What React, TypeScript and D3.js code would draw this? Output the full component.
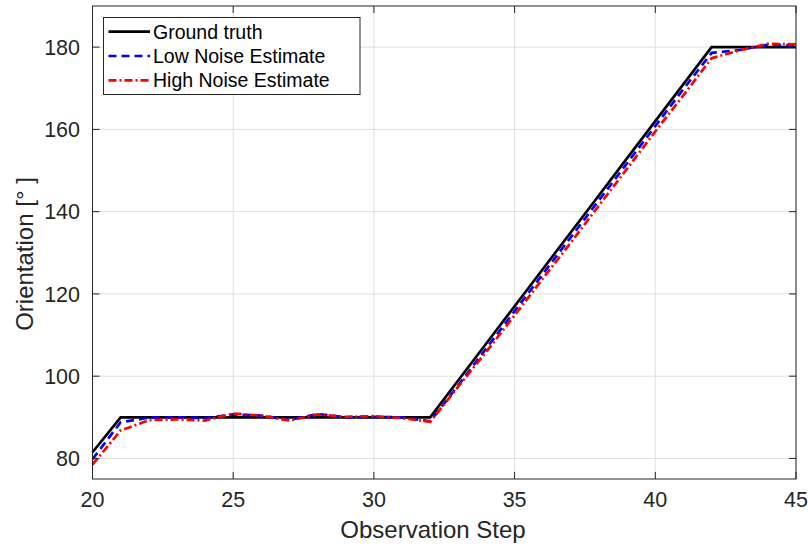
import React from "react";
import * as d3 from "d3";

const steps = d3.range(20, 46);
const groundTruth = [81.5, 90, 90, 90, 90, 90, 90, 90, 90, 90, 90, 90, 90, 99, 108, 117, 126, 135, 144, 153, 162, 171, 180, 180, 180, 180];
const lowNoise = [79.8, 88.8, 89.9, 90.0, 89.8, 90.7, 90.4, 89.4, 90.8, 90.0, 90.1, 90.0, 89.0, 97.8, 106.8, 115.8, 124.8, 133.8, 142.8, 151.8, 160.8, 169.8, 178.6, 179.3, 180.6, 180.4];
const highNoise = [78.5, 86.8, 89.3, 89.5, 89.2, 90.9, 90.4, 89.2, 90.7, 90.1, 90.3, 89.8, 88.9, 97.5, 106.0, 114.8, 123.7, 132.5, 141.5, 150.5, 159.5, 168.3, 177.3, 179.2, 180.8, 180.7];
const xTicks = [20, 25, 30, 35, 40, 45];
const yTicks = [80, 100, 120, 140, 160, 180];
const seriesNames = ["Ground truth", "Low Noise Estimate", "High Noise Estimate"];

const W = 808, H = 547;
const left = 92.5, right = 796, top = 6, bottom = 479;
const font = "'Liberation Sans', Arial, Helvetica, sans-serif";
const axisColor = "#262626";

export default function App() {
  const x = d3.scaleLinear().domain([20, 45]).range([left, right]);
  const y = d3.scaleLinear().domain([75, 190]).range([bottom, top]);
  const line = (vals: number[]) =>
    d3.line<number>().x((_, i) => x(steps[i])).y((d) => y(d))(vals) || "";

  const series = [
    { vals: groundTruth, color: "#000000", dash: undefined as string | undefined },
    { vals: lowNoise, color: "#0000ff", dash: "8,5" },
    { vals: highNoise, color: "#ff0000", dash: "8,3,2,3" },
  ];
  const tickLen = 7;

  return (
    <svg width={W} height={H} style={{ position: "absolute", left: 0, top: 0, background: "#fff" }}>
      <rect x={0} y={0} width={W} height={H} fill="#fff" />
      {xTicks.map((t) => (
        <line key={"gx" + t} x1={x(t)} x2={x(t)} y1={top} y2={bottom} stroke="#dfdfdf" strokeWidth={1} />
      ))}
      {yTicks.map((t) => (
        <line key={"gy" + t} x1={left} x2={right} y1={y(t)} y2={y(t)} stroke="#dfdfdf" strokeWidth={1} />
      ))}
      {series.map((s, i) => (
        <path key={i} d={line(s.vals)} fill="none" stroke={s.color} strokeWidth={2.7} strokeDasharray={s.dash} strokeLinejoin="miter" />
      ))}
      <rect x={left} y={top} width={right - left} height={bottom - top} fill="none" stroke={axisColor} strokeWidth={1} />
      {xTicks.map((t) => (
        <g key={"tx" + t}>
          <line x1={x(t)} x2={x(t)} y1={bottom} y2={bottom - tickLen} stroke={axisColor} />
          <line x1={x(t)} x2={x(t)} y1={top} y2={top + tickLen} stroke={axisColor} />
          <text x={x(t)} y={507} textAnchor="middle" fontFamily={font} fontSize={21.5} fill={axisColor}>{t}</text>
        </g>
      ))}
      {yTicks.map((t) => (
        <g key={"ty" + t}>
          <line x1={left} x2={left + tickLen} y1={y(t)} y2={y(t)} stroke={axisColor} />
          <line x1={right} x2={right - tickLen} y1={y(t)} y2={y(t)} stroke={axisColor} />
          <text x={80} y={y(t)} dy="0.36em" textAnchor="end" fontFamily={font} fontSize={21.5} fill={axisColor}>{t}</text>
        </g>
      ))}
      <text x={433} y={538} textAnchor="middle" fontFamily={font} fontSize={24} fill={axisColor}>Observation Step</text>
      <text transform={`translate(33,254) rotate(-90)`} textAnchor="middle" fontFamily={font} fontSize={24} fill={axisColor}>Orientation [° ]</text>
      <rect x={103.5} y={17.5} width={256.5} height={77} fill="#fff" stroke={axisColor} strokeWidth={1} />
      {series.map((s, i) => {
        const cy = 31.7 + i * 24.3;
        return (
          <g key={"lg" + i}>
            <line x1={108.5} x2={150} y1={cy} y2={cy} stroke={s.color} strokeWidth={2.7} strokeDasharray={s.dash} />
            <text x={153} y={cy} dy="0.36em" fontFamily={font} fontSize={19.5} fill="#000">{seriesNames[i]}</text>
          </g>
        );
      })}
    </svg>
  );
}
